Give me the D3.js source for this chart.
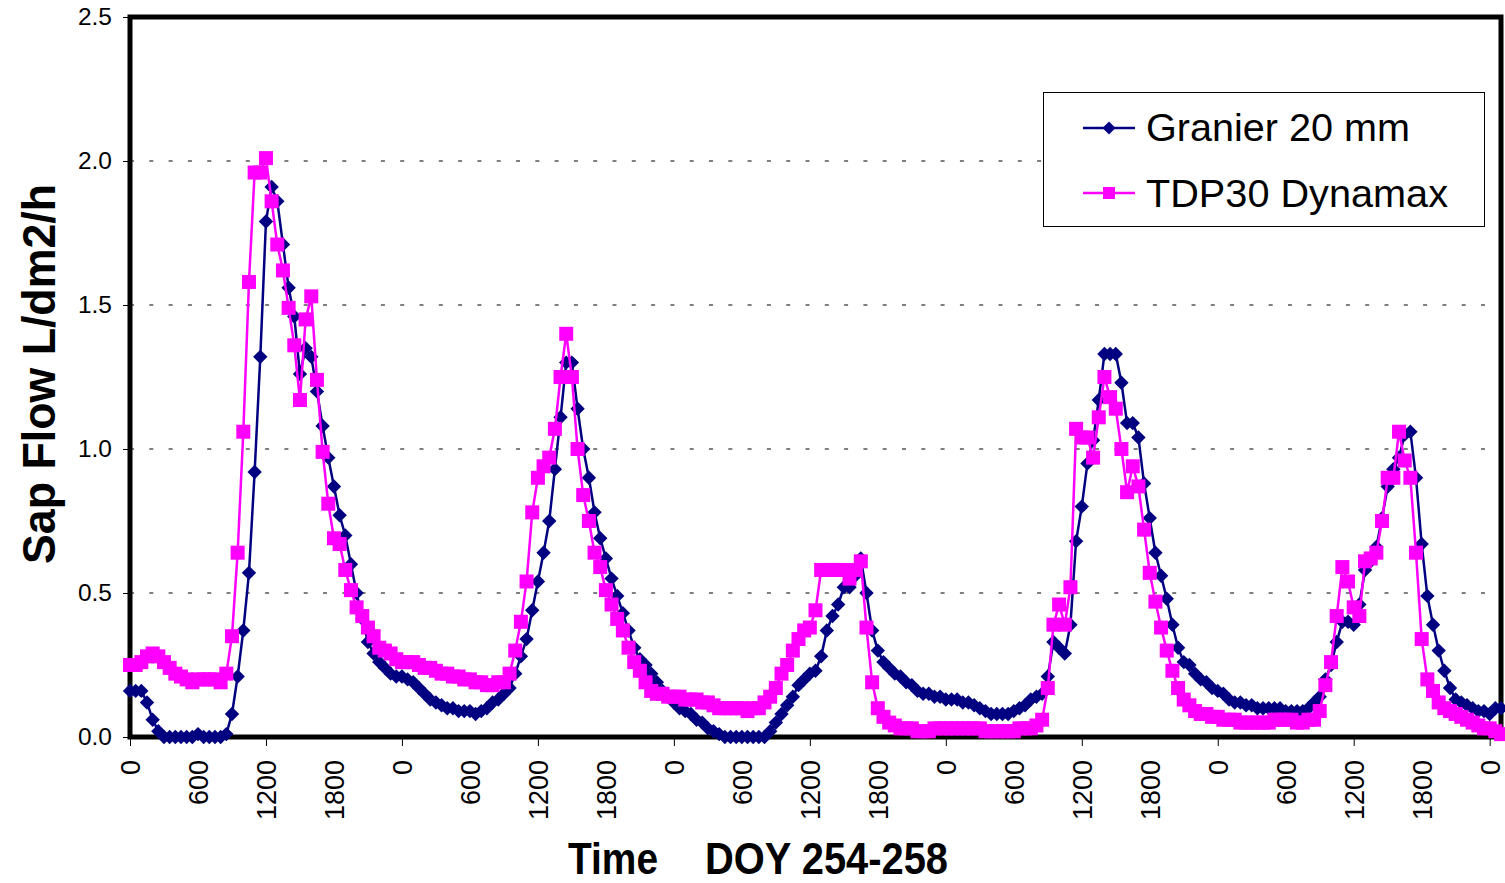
<!DOCTYPE html>
<html><head><meta charset="utf-8">
<script src="https://cdn.jsdelivr.net/npm/d3@7"></script>
<style>body{margin:0;background:#fff}</style>
</head><body><svg id="c" width="1505" height="883"></svg>
<script>
// half-hourly sap flow, DOY 254-258 (L/dm2/h)
const granier = [
0.16,0.16,0.16,0.12,0.06,0.02,0.00,0.00,0.00,0.00,0.00,0.00,
0.01,0.00,0.00,0.00,0.00,0.01,0.08,0.21,0.37,0.57,0.92,1.32,
1.79,1.91,1.86,1.71,1.56,1.46,1.26,1.35,1.32,1.20,1.08,0.97,
0.87,0.77,0.70,0.60,0.50,0.41,0.33,0.29,0.26,0.24,0.22,0.21,
0.21,0.20,0.19,0.17,0.15,0.13,0.12,0.11,0.10,0.10,0.09,0.09,
0.09,0.08,0.09,0.10,0.12,0.13,0.15,0.17,0.22,0.28,0.34,0.44,
0.54,0.64,0.75,0.93,1.11,1.30,1.30,1.14,1.00,0.90,0.78,0.69,
0.62,0.55,0.49,0.43,0.37,0.31,0.27,0.25,0.22,0.19,0.16,0.14,
0.12,0.10,0.09,0.08,0.06,0.05,0.03,0.02,0.01,0.00,0.00,0.00,
0.00,0.00,0.00,0.00,0.00,0.02,0.05,0.08,0.11,0.14,0.18,0.20,
0.22,0.23,0.28,0.37,0.42,0.46,0.52,0.52,0.56,0.62,0.50,0.37,
0.30,0.26,0.24,0.22,0.21,0.19,0.18,0.16,0.15,0.15,0.14,0.14,
0.13,0.13,0.13,0.12,0.12,0.11,0.10,0.09,0.08,0.08,0.08,0.08,
0.09,0.10,0.11,0.13,0.14,0.15,0.21,0.33,0.31,0.29,0.39,0.68,
0.80,0.95,1.03,1.17,1.33,1.33,1.33,1.23,1.09,1.09,1.04,0.88,
0.76,0.64,0.56,0.48,0.39,0.31,0.26,0.25,0.22,0.20,0.19,0.17,
0.16,0.15,0.13,0.12,0.12,0.11,0.11,0.10,0.10,0.10,0.10,0.10,
0.09,0.09,0.09,0.09,0.10,0.12,0.14,0.20,0.25,0.33,0.40,0.40,
0.39,0.46,0.58,0.61,0.66,0.76,0.87,0.93,0.97,1.05,1.06,0.90,
0.67,0.49,0.39,0.30,0.23,0.17,0.13,0.12,0.11,0.10,0.09,0.09,
0.08,0.10,0.10];
const tdp30 = [
0.25,0.25,0.26,0.28,0.29,0.28,0.26,0.24,0.22,0.21,0.20,0.19,
0.20,0.20,0.20,0.20,0.19,0.22,0.35,0.64,1.06,1.58,1.96,1.96,
2.01,1.86,1.71,1.62,1.49,1.36,1.17,1.45,1.53,1.24,0.99,0.81,
0.69,0.67,0.58,0.51,0.45,0.42,0.38,0.35,0.31,0.30,0.29,0.27,
0.26,0.26,0.26,0.25,0.24,0.24,0.23,0.22,0.22,0.21,0.21,0.20,
0.20,0.19,0.19,0.18,0.18,0.19,0.19,0.22,0.30,0.40,0.54,0.78,
0.90,0.94,0.97,1.07,1.25,1.40,1.25,1.00,0.84,0.75,0.64,0.59,
0.51,0.46,0.41,0.37,0.31,0.26,0.23,0.19,0.16,0.15,0.15,0.14,
0.14,0.14,0.13,0.13,0.13,0.12,0.12,0.11,0.10,0.10,0.10,0.10,
0.10,0.09,0.10,0.10,0.12,0.14,0.17,0.22,0.25,0.30,0.34,0.37,
0.38,0.44,0.58,0.58,0.58,0.58,0.58,0.55,0.58,0.61,0.38,0.19,
0.10,0.07,0.05,0.04,0.03,0.03,0.03,0.02,0.02,0.02,0.03,0.03,
0.03,0.03,0.03,0.03,0.03,0.03,0.03,0.02,0.02,0.02,0.02,0.02,
0.02,0.03,0.03,0.03,0.04,0.06,0.17,0.39,0.46,0.39,0.52,1.07,
1.04,1.04,0.97,1.11,1.25,1.18,1.14,1.00,0.85,0.94,0.87,0.72,
0.57,0.47,0.38,0.30,0.23,0.17,0.13,0.11,0.09,0.08,0.08,0.07,
0.07,0.06,0.06,0.06,0.05,0.05,0.05,0.05,0.05,0.05,0.06,0.06,
0.06,0.06,0.05,0.05,0.06,0.06,0.09,0.18,0.26,0.42,0.59,0.54,
0.45,0.42,0.61,0.62,0.64,0.75,0.90,0.90,1.06,0.96,0.90,0.64,
0.34,0.20,0.16,0.12,0.10,0.09,0.08,0.07,0.06,0.05,0.04,0.03,
0.03,0.02,0.01];
const hourLabels = ["0","600","1200","1800"];
const yTickValues = [0, 0.5, 1.0, 1.5, 2.0, 2.5];
const seriesNames = ["Granier 20 mm", "TDP30 Dynamax"];
const seriesColors = ["#000080", "#FF00FF"];

const FONT = "'Liberation Sans', Arial, Helvetica, sans-serif";
const svg = d3.select("#c");
const L = 130, R = 1501, T = 17, B = 737;
const x = d3.scaleLinear().domain([0, granier.length - 1]).range([L, R]);
const y = d3.scaleLinear().domain([0, 2.5]).range([B, T]);

// gridlines
svg.append("g").selectAll("line")
  .data(yTickValues.filter(v => v > 0 && v < 2.5)).join("line")
  .attr("x1", L).attr("x2", R)
  .attr("y1", d => y(d)).attr("y2", d => y(d))
  .attr("stroke", "#000").attr("stroke-width", 1.2)
  .attr("stroke-dasharray", "4,15.3");

// y axis
const gy = svg.append("g").attr("transform", `translate(${L},0)`)
  .call(d3.axisLeft(y).tickValues(yTickValues).tickFormat(d3.format(".1f")).tickSize(7).tickPadding(11));
gy.select(".domain").remove();
gy.selectAll(".tick line").attr("stroke", "#000");
gy.selectAll(".tick text").attr("font-family", FONT).attr("font-size", 24.5).attr("fill", "#000");

// x axis
const labelIdx = d3.range(0, granier.length, 12);
const gx = svg.append("g").attr("transform", `translate(0,${B})`)
  .call(d3.axisBottom(x).tickValues(labelIdx).tickFormat(d => hourLabels[(d / 12) % 4]).tickSize(9));
gx.select(".domain").remove();
gx.selectAll(".tick line").attr("stroke", "#000").attr("opacity", d => d % 24 === 0 ? 1 : 0);
gx.selectAll(".tick text")
  .attr("font-family", FONT).attr("font-size", 27).attr("fill", "#000")
  .attr("transform", "rotate(-90)").attr("text-anchor", "end")
  .attr("x", -23).attr("y", 0).attr("dy", "0.36em");

// plot frame
svg.append("rect").attr("x", L).attr("y", T).attr("width", R - L).attr("height", B - T)
  .attr("fill", "none").attr("stroke", "#000").attr("stroke-width", 5);

// series
const line = d3.line().x((d, i) => x(i)).y(d => y(d));
const diamond = "M0,-7.2L7.2,0L0,7.2L-7.2,0Z";
function drawSeries(data, color, marker) {
  const g = svg.append("g");
  g.append("path").datum(data).attr("d", line).attr("fill", "none")
    .attr("stroke", color).attr("stroke-width", 2.5).attr("stroke-linejoin", "round");
  if (marker === "diamond") {
    g.selectAll("path.m").data(data).join("path").attr("class", "m")
      .attr("d", diamond).attr("transform", (d, i) => `translate(${x(i)},${y(d)})`).attr("fill", color);
  } else {
    g.selectAll("rect").data(data).join("rect")
      .attr("x", (d, i) => x(i) - 7).attr("y", d => y(d) - 7)
      .attr("width", 14).attr("height", 14).attr("fill", color);
  }
}
drawSeries(granier, seriesColors[0], "diamond");
drawSeries(tdp30, seriesColors[1], "square");

// legend
const lg = svg.append("g");
lg.append("rect").attr("x", 1043.5).attr("y", 92.5).attr("width", 441).attr("height", 134)
  .attr("fill", "#fff").attr("stroke", "#000").attr("stroke-width", 1);
[[128, 141], [193, 207]].forEach(([ly, ty], k) => {
  lg.append("line").attr("x1", 1083).attr("x2", 1135).attr("y1", ly).attr("y2", ly)
    .attr("stroke", seriesColors[k]).attr("stroke-width", 2.5);
  if (k === 0) lg.append("path").attr("d", "M0,-6.5L6.5,0L0,6.5L-6.5,0Z").attr("transform", `translate(1109,${ly})`).attr("fill", seriesColors[k]);
  else lg.append("rect").attr("x", 1103).attr("y", ly - 6).attr("width", 12).attr("height", 12).attr("fill", seriesColors[k]);
  lg.append("text").attr("x", 1146).attr("y", ty).attr("font-family", FONT).attr("font-size", 39)
    .attr("fill", "#000").attr("textLength", k === 0 ? 264 : 302).attr("lengthAdjust", "spacingAndGlyphs")
    .text(seriesNames[k]);
});

// axis titles
svg.append("text").attr("transform", "translate(55,374) rotate(-90)").attr("text-anchor", "middle")
  .attr("font-family", FONT).attr("font-weight", "bold").attr("font-size", 47)
  .attr("textLength", 380).attr("lengthAdjust", "spacingAndGlyphs").text("Sap Flow L/dm2/h");
svg.append("text").attr("transform", "translate(568,874) scale(1,1.12)")
  .attr("font-family", FONT).attr("font-weight", "bold").attr("font-size", 40)
  .attr("textLength", 90).attr("lengthAdjust", "spacingAndGlyphs").text("Time");
svg.append("text").attr("transform", "translate(705,874) scale(1,1.12)")
  .attr("font-family", FONT).attr("font-weight", "bold").attr("font-size", 40)
  .attr("textLength", 243).attr("lengthAdjust", "spacingAndGlyphs").text("DOY 254-258");
</script></body></html>
